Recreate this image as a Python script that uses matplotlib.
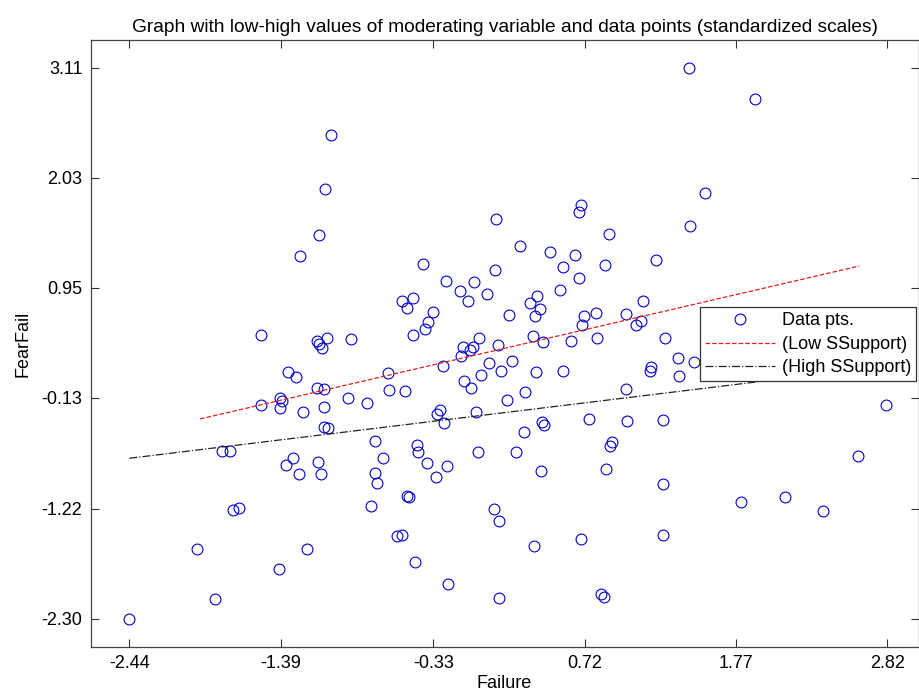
import numpy as np
import matplotlib
matplotlib.use("Agg")
import matplotlib.pyplot as plt

plt.rcParams['font.family'] = ['Liberation Sans', 'DejaVu Sans']

# standardized data points (Failure, FearFail)
failure = [
    -1.042, -1.082, -1.121,
    1.442, 1.900, 1.553, 0.105, 1.451, 0.695, 0.683, 0.889, 0.273,
    -1.255, -0.400, -0.244, -0.050, -0.143, -0.092, 0.042, -0.548, -0.469, -0.515,
    -0.330, -0.365, -0.386, -0.473, -1.139, -1.068, -1.121, -1.105, -0.901, -0.013,
    -0.122, -0.053, -0.076, -0.140, -0.263, 0.058, -0.647, -0.001, -1.285, -1.139,
    -1.091, -0.920, -0.790, -0.640, -0.529, -0.115, -0.069, -1.237, -1.087, -0.284,
    -0.307, -0.254, -0.036, -1.087, -1.061, -0.733, -0.441, -0.434, -0.681, -0.018,
    -0.376, -0.237, -1.306, -1.130, -1.260, -1.108, -0.733, -0.314,
    0.482, 0.653, 1.213, 0.098, 0.572, 0.861, 0.683, 0.551, 0.387, 0.341, 0.410,
    0.373, 0.195, 1.123, 0.715, 0.797, 0.702, 1.005, 1.074, 1.111, 0.364, 0.433,
    0.625, 0.806, 1.278, 0.117, 0.137, 0.216, 0.380, 0.570, 1.180, 1.170, 1.366,
    1.373, 1.479, 1.005, 0.304, 0.179, 0.750, 1.012, 1.266, 0.422, 0.438, 0.297,
    0.908, 0.896, 0.241, 0.415, 0.868,
    -1.528, -1.341, -1.392, -1.378, -1.392, -1.528, -1.799, -1.741, -1.353,
    2.809, 2.619,
    -0.719, -0.515, -0.499, -0.765, -1.722, -1.677, 0.091, 0.128, -0.584, -0.545,
    -1.972, -1.207, -1.399, -0.459, -0.226, -1.847, -2.440, 0.124, 1.266, 1.803,
    2.112, 2.372, 0.366, 0.695, 1.266, 0.833, 0.854,
]
fearfail = [
    2.449, 1.922, 1.468,
    3.110, 2.806, 1.883, 1.622, 1.556, 1.763, 1.697, 1.478, 1.360,
    1.262, 1.184, 1.020, 1.004, 0.916, 0.817, 0.886, 0.817, 0.847, 0.749,
    0.712, 0.611, 0.549, 0.484, 0.431, 0.460, 0.395, 0.362, 0.450, 0.454,
    0.366, 0.366, 0.340, 0.281, 0.180, 0.209, 0.114, 0.094, 0.072, -0.036,
    -0.043, -0.132, -0.181, -0.053, -0.060, 0.035, -0.033, -0.272, -0.217, -0.249,
    -0.291, -0.380, -0.272, -0.413, -0.429, -0.553, -0.593, -0.664, -0.720, -0.664,
    -0.772, -0.799, -0.723, -0.757, -0.877, -0.877, -0.870, -0.904,
    1.301, 1.272, 1.226, 1.125, 1.151, 1.177, 1.043, 0.931, 0.867, 0.804, 0.742,
    0.673, 0.680, 0.823, 0.673, 0.700, 0.588, 0.690, 0.582, 0.621, 0.477, 0.418,
    0.431, 0.460, 0.460, 0.389, 0.136, 0.229, 0.121, 0.131, 0.170, 0.138, 0.258,
    0.087, 0.225, -0.040, -0.076, -0.148, -0.335, -0.354, -0.344, -0.370, -0.396, -0.465,
    -0.560, -0.600, -0.658, -0.845, -0.831,
    0.484, 0.121, -0.129, -0.161, -0.233, -0.203, -0.649, -0.649, -0.789,
    -0.197, -0.701,
    -0.969, -1.090, -1.106, -1.188, -1.231, -1.214, -1.221, -1.339, -1.486, -1.473,
    -1.613, -1.613, -1.813, -1.741, -1.954, -2.107, -2.300, -2.097, -0.973, -1.149,
    -1.106, -1.237, -1.587, -1.515, -1.479, -2.058, -2.081,
]

# simple slopes for low / high values of the moderator
low_x = [-1.949, 2.626]
low_y = [-0.337, 1.164]
high_x = [-2.44, 2.626]
high_y = [-0.723, 0.149]

xticks = [-2.44, -1.39, -0.33, 0.72, 1.77, 2.82]
yticks = [-2.30, -1.22, -0.13, 0.95, 2.03, 3.11]

fig = plt.figure(figsize=(9.19, 6.95), dpi=100)
ax = fig.add_axes([0.0987, 0.0691, 0.9008, 0.8733])

ax.plot(failure, fearfail, 'o', markerfacecolor='none', markeredgecolor='#0000cc',
        markersize=7.8, markeredgewidth=0.8, label='Data pts.')
ax.plot(low_x, low_y, '--', color='#e02020', linewidth=0.9, label='(Low SSupport)')
ax.plot(high_x, high_y, '-.', color='#222222', linewidth=0.9, label='(High SSupport)')

ax.set_xlim(-2.708, 3.037)
ax.set_ylim(-2.575, 3.382)
ax.set_xticks(xticks)
ax.set_xticklabels(['%.2f' % v for v in xticks])
ax.set_yticks(yticks)
ax.set_yticklabels(['%.2f' % v for v in yticks])
ax.tick_params(direction='in', length=6, width=0.8, labelsize=13, pad=6,
               top=True, right=True, color='#333333')
for s in ax.spines.values():
    s.set_color('#444444')
    s.set_linewidth(0.9)

ax.set_xlabel('Failure', fontsize=13, labelpad=2)
ax.set_ylabel('FearFail', fontsize=13, labelpad=7)
ax.set_title('Graph with low-high values of moderating variable and data points (standardized scales)',
             fontsize=13.8, pad=5.5)

leg = ax.legend(loc='upper right', bbox_to_anchor=(0.997, 0.5596), borderaxespad=0,
                fancybox=False, framealpha=1, edgecolor='#333333', fontsize=13,
                handlelength=3.9, handletextpad=0.35, labelspacing=0.36, borderpad=0.28)
leg.get_frame().set_linewidth(0.9)

plt.savefig('out.png', dpi=100)
